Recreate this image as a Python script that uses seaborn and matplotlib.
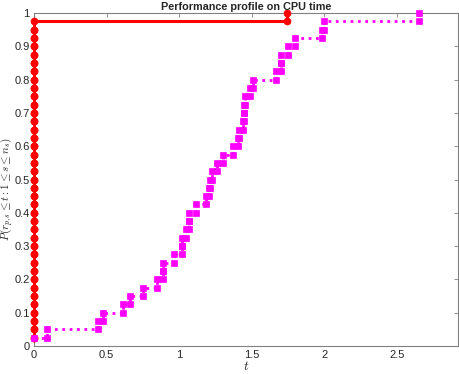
import numpy as np
import matplotlib
matplotlib.use('Agg')
import matplotlib.pyplot as plt
import seaborn as sns

# Sorted performance ratios (log scale) per solver, 40 problems
solver_red_t = [0.0] * 39 + [1.743]
solver_magenta_t = [0.0, 0.09, 0.443, 0.473, 0.616, 0.662, 0.749, 0.851, 0.887, 0.887,
                    0.967, 1.017, 1.017, 1.048, 1.067, 1.067, 1.117, 1.184, 1.205, 1.212,
                    1.225, 1.264, 1.306, 1.370, 1.405, 1.416, 1.444, 1.448, 1.450, 1.455,
                    1.490, 1.508, 1.669, 1.703, 1.703, 1.750, 1.800, 1.984, 2.000, 2.657]

x_ticks = [0, 0.5, 1, 1.5, 2, 2.5]
y_ticks = [0, 0.1, 0.2, 0.3, 0.4, 0.5, 0.6, 0.7, 0.8, 0.9, 1]


def stairs(t):
    t = np.asarray(t, dtype=float)
    p = np.arange(1, len(t) + 1) / len(t)
    xs = np.repeat(t, 2)[1:]
    ys = np.repeat(p, 2)[:-1]
    return xs, ys


sns.set_style('white')
plt.rcParams['font.family'] = ['Liberation Sans', 'DejaVu Sans']
plt.rcParams['mathtext.fontset'] = 'cm'

fig = plt.figure(figsize=(4.59, 3.74), dpi=100)
ax = fig.add_axes([34 / 459, 28 / 374, 424 / 459, 333 / 374])

xr, yr = stairs(solver_red_t)
sns.lineplot(x=xr, y=yr, sort=False, estimator=None, color='#ff0000',
             linewidth=2.2, marker='o', markersize=5, markeredgewidth=0.5,
             markeredgecolor='#ff0000', clip_on=False, zorder=3, ax=ax)

xm, ym = stairs(solver_magenta_t)
sns.lineplot(x=xm, y=ym, sort=False, estimator=None, color='#ff00ff',
             linewidth=2, linestyle=':', marker='s', markersize=4.2,
             markeredgewidth=0.5, markeredgecolor='#ff00ff', clip_on=False,
             zorder=3, ax=ax)

ax.set_xlim(0, 1.1 * max(solver_magenta_t))
ax.set_ylim(0, 1)
ax.set_xticks(x_ticks)
ax.set_xticklabels(['0', '0.5', '1', '1.5', '2', '2.5'])
ax.set_yticks(y_ticks)
ax.set_yticklabels(['0', '0.1', '0.2', '0.3', '0.4', '0.5', '0.6', '0.7', '0.8', '0.9', '1'])

axis_color = '#262626'
for s in ax.spines.values():
    s.set_visible(True)
    s.set_color('#808080')
    s.set_linewidth(0.8)
ax.tick_params(direction='in', length=3, width=0.6, colors='#808080',
               labelcolor=axis_color, labelsize=8, top=True, right=True, pad=3)

ax.set_title('Performance profile on CPU time', fontsize=7.8, fontweight='bold', pad=2)
ax.set_xlabel('$t$', fontsize=9.5, labelpad=0)
ax.set_ylabel(r'$P(r_{p,s} \leq t : 1 \leq s \leq n_s)$', fontsize=8, va='center')
ax.yaxis.set_label_coords(-0.064, 0.47)

fig.savefig('out.png', dpi=100)
